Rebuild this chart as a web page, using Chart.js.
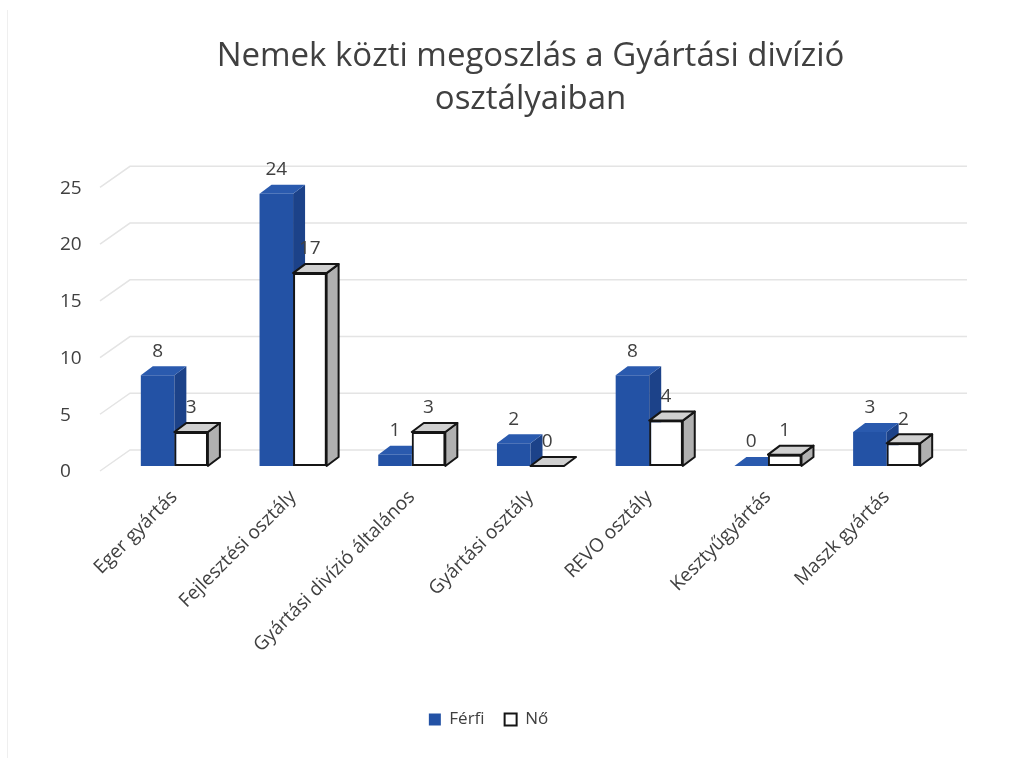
<!DOCTYPE html>
<html lang="hu">
<head>
<meta charset="UTF-8">
<title>Nemek közti megoszlás</title>
<script src="https://cdn.jsdelivr.net/npm/chart.js"></script>
<style>
  * { box-sizing: border-box; margin: 0; padding: 0; }
  body { background: #fff; }
  .keret { position: relative; width: 1022px; height: 758px; }
  .keret .szel { position: absolute; left: 7px; top: 10px; bottom: 0; border-left: 1px solid #efefef; }
</style>
</head>
<body>
<div class="keret">
  <div class="szel"></div>
  <canvas id="grafika"></canvas>
</div>

<script>
// adatok
const osztalyok = ['Eger gyártás', 'Fejlesztési osztály', 'Gyártási divízió általános', 'Gyártási osztály', 'REVO osztály', 'Kesztyűgyártás', 'Maszk gyártás'];
const ferfi = [8, 24, 1, 2, 8, 0, 3];
const no = [3, 17, 3, 0, 4, 1, 2];
const yErtekek = [0, 5, 10, 15, 20, 25];

const SZOVEG = '#404040';
const BETU = 'Open Sans';
const KEK = { elol: '#2352a5', teto: '#2a5aae', oldal: '#1c4289', vonal: null };
const FEHER = { elol: '#ffffff', teto: '#d0d0d0', oldal: '#b0b0b0', vonal: '#151515' };
const DX = 12, DY = -9;   // a hasábok mélysége

function lap(ctx, pts, szin, vonal) {
  ctx.beginPath();
  ctx.moveTo(pts[0][0], pts[0][1]);
  for (let i = 1; i < pts.length; i++) ctx.lineTo(pts[i][0], pts[i][1]);
  ctx.closePath();
  ctx.fillStyle = szin;
  ctx.fill();
  if (vonal) {
    ctx.strokeStyle = vonal;
    ctx.lineWidth = 2;
    ctx.lineJoin = 'round';
    ctx.stroke();
  }
}

function hasab(ctx, elem, sz) {
  const { x, y, base, width } = elem.getProps(['x', 'y', 'base', 'width'], true);
  const l = x - width / 2, r = x + width / 2;
  if (base - y > 0.5) {
    lap(ctx, [[r, y], [r + DX, y + DY], [r + DX, base + DY], [r, base]], sz.oldal, sz.vonal);
  }
  lap(ctx, [[l, y], [l + DX, y + DY], [r + DX, y + DY], [r, y]], sz.teto, sz.vonal);
}

const terPlugin = {
  id: 'ter',
  afterLayout(chart) {
    // a jelmagyarázat kicsit balra kerül
    chart.legend.left -= 42;
    chart.legend.right -= 42;
  },
  beforeDatasetsDraw(chart) {
    const ctx = chart.ctx;
    const y = chart.scales.y;
    ctx.save();
    ctx.strokeStyle = '#e4e4e4';
    ctx.lineWidth = 1.5;
    yErtekek.forEach(v => {
      const py = y.getPixelForValue(v);
      ctx.beginPath();
      ctx.moveTo(100, py + 5);
      ctx.lineTo(130, py - 16);
      ctx.lineTo(967, py - 16);
      ctx.stroke();
    });
    ctx.restore();
  },
  afterDatasetsDraw(chart) {
    const ctx = chart.ctx;
    const mF = chart.getDatasetMeta(0);
    const mN = chart.getDatasetMeta(1);
    ctx.save();
    mF.data.forEach(el => hasab(ctx, el, KEK));
    mN.data.forEach(el => {
      el.draw(ctx);
      hasab(ctx, el, FEHER);
    });

    // értékcímkék
    ctx.fillStyle = SZOVEG;
    ctx.font = '19px "' + BETU + '"';
    ctx.textAlign = 'center';
    ctx.textBaseline = 'middle';
    [mF, mN].forEach((m, i) => {
      const adat = i === 0 ? ferfi : no;
      m.data.forEach((el, j) => {
        ctx.fillText(String(adat[j]), el.x, el.y - 24);
      });
    });

    // y tengely feliratai
    const ys = chart.scales.y;
    ctx.textAlign = 'left';
    yErtekek.forEach(v => {
      ctx.fillText(String(v), 60, ys.getPixelForValue(v) + 6);
    });
    ctx.restore();
  }
};

const grafika = new Chart(document.getElementById('grafika'), {
  type: 'bar',
  data: {
    labels: osztalyok,
    datasets: [
      {
        label: 'Férfi',
        data: ferfi,
        backgroundColor: KEK.elol,
        borderWidth: 0,
        categoryPercentage: 0.565,
        barPercentage: 1
      },
      {
        label: 'Nő',
        data: no,
        backgroundColor: FEHER.elol,
        borderColor: FEHER.vonal,
        borderWidth: 2,
        borderSkipped: false,
        categoryPercentage: 0.565,
        barPercentage: 1
      }
    ]
  },
  options: {
    responsive: true,
    maintainAspectRatio: false,
    animation: false,
    layout: { padding: { left: 115, right: 76, top: 0, bottom: 20 } },
    scales: {
      x: {
        grid: { display: false },
        border: { display: false },
        ticks: {
          color: SZOVEG,
          font: { family: BETU, size: 19 },
          minRotation: 45,
          maxRotation: 45,
          autoSkip: false,
          padding: 12
        },
        afterFit: s => { s.height = 225; }
      },
      y: { display: false, min: 0, max: 25 }
    },
    plugins: {
      title: {
        display: true,
        text: ['Nemek közti megoszlás a Gyártási divízió', 'osztályaiban'],
        color: SZOVEG,
        font: { family: BETU, size: 33, weight: 'normal', lineHeight: 1.3 },
        padding: { top: 35, bottom: 61.5 }
      },
      legend: {
        position: 'bottom',
        labels: {
          color: SZOVEG,
          font: { family: BETU, size: 17 },
          boxWidth: 12,
          boxHeight: 12,
          padding: 20
        }
      },
      tooltip: { enabled: false }
    }
  },
  plugins: [terPlugin]
});
</script>
</body>
</html>
